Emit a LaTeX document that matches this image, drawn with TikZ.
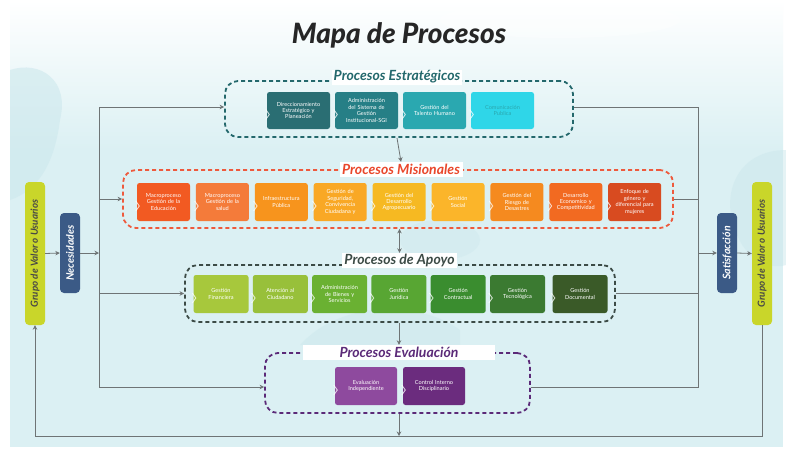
\documentclass[tikz,border=0pt]{standalone}
\usepackage{fontspec}
\setmainfont{Lato}
\newfontfamily\heavyfont{Lato Black Italic}
\usetikzlibrary{arrows.meta,calc}
\definecolor{bgc}{HTML}{DBF0F3}
\definecolor{blob}{HTML}{CDE8ED}
\definecolor{linec}{HTML}{6E7475}
\definecolor{titlec}{HTML}{262626}
\definecolor{estc}{HTML}{24686C}
\definecolor{misc}{HTML}{EE5A3D}
\definecolor{misT}{HTML}{E9472B}
\definecolor{apoc}{HTML}{3C4B46}
\definecolor{evac}{HTML}{5B2A78}
\definecolor{grp}{HTML}{C9D62A}
\definecolor{navy}{HTML}{3B5A86}
\definecolor{eA}{HTML}{2A6E73}
\definecolor{eB}{HTML}{267F86}
\definecolor{eC}{HTML}{2AA8B0}
\definecolor{eD}{HTML}{2FD6E8}
\definecolor{mA}{HTML}{F25A22}
\definecolor{mB}{HTML}{F47B3A}
\definecolor{mC}{HTML}{F7941D}
\definecolor{mD}{HTML}{F9A825}
\definecolor{mE}{HTML}{F6B922}
\definecolor{mF}{HTML}{FBB52A}
\definecolor{mG}{HTML}{F58A1F}
\definecolor{mH}{HTML}{F26A21}
\definecolor{mI}{HTML}{D84B20}
\definecolor{aA}{HTML}{A7C83C}
\definecolor{aB}{HTML}{98C03A}
\definecolor{aC}{HTML}{6AB132}
\definecolor{aD}{HTML}{58A633}
\definecolor{aE}{HTML}{3A8D2F}
\definecolor{aF}{HTML}{3B7A31}
\definecolor{aG}{HTML}{3A5A28}
\definecolor{vA}{HTML}{8E4A9E}
\definecolor{vB}{HTML}{6B2C7E}
\begin{document}
\begin{tikzpicture}[x=1pt,y=-1pt,
  conn/.style={draw=linec,line width=0.8pt},
  arr/.style={conn,-{Stealth[length=4.5pt,width=4.5pt]}},
  dbl/.style={conn,{Stealth[length=4.5pt,width=4.5pt]}-{Stealth[length=4.5pt,width=4.5pt]}},
  frame/.style={draw=#1,dashed,dash pattern=on 4pt off 3pt,line width=1.8pt,rounded corners=13pt,inner sep=0pt},
  sectitle/.style={fill=white,text=#1,font=\fontsize{14}{15}\selectfont\bfseries\itshape,inner sep=0pt,minimum height=15pt},
  pbox/.style={fill=#1,rounded corners=2.5pt,align=center,text=white,inner sep=0pt,font=\fontsize{5.6}{6.4}\selectfont},
  estb/.style={pbox=#1,minimum width=63pt,minimum height=37pt,text width=57pt},
  misb/.style={pbox=#1,minimum width=53pt,minimum height=38pt,text width=50pt},
  apob/.style={pbox=#1,minimum width=55pt,minimum height=38pt,text width=52pt},
  evab/.style={pbox=#1,minimum width=62pt,minimum height=38pt,text width=57pt},
  sidebox/.style={fill=#1,rounded corners=4pt,minimum width=20pt,inner sep=0pt},
  chev/.style={draw=white,draw opacity=0.75,line width=0.9pt}
]
\useasboundingbox (0,0) rectangle (786,451);
% background
\fill[white] (0,0) rectangle (786,451);
\shade[top color=white,bottom color=bgc] (10,0) rectangle (783,150);
\fill[bgc] (10,150) rectangle (783,447);
\fill[blob,opacity=0.6] (10,70) .. controls (40,60) and (70,80) .. (60,120) .. controls (55,160) and (40,190) .. (10,200) -- cycle;
\fill[blob,opacity=0.5] (786,150) .. controls (740,150) and (720,190) .. (735,230) .. controls (745,260) and (770,270) .. (786,265) -- cycle;
\fill[blob,opacity=0.5] (300,345) .. controls (340,300) and (420,300) .. (460,330) -- (460,345) -- cycle;
\fill[blob,opacity=0.4] (440,240) ellipse (40pt and 20pt);
\fill[white,opacity=0.35] (560,20) ellipse (120pt and 18pt);

% title
\node[font=\fontsize{28}{30}\selectfont\heavyfont,text=titlec] (title) at (399,35) {Mapa de Procesos};

% containers
\node[frame=estc,minimum width=348pt,minimum height=56pt] (est) at (399,109) {};
\node[frame=misc,minimum width=550pt,minimum height=58pt] (mis) at (398,199) {};
\node[frame=apoc,minimum width=430pt,minimum height=57pt] (apo) at (400,293.5) {};
\node[frame=evac,minimum width=265pt,minimum height=60pt] (eva) at (397.5,383) {};

\node[sectitle=estc,minimum width=130pt] (estT) at (397,77) {Procesos Estratégicos};
\node[sectitle=misT,minimum width=123pt] (misT) at (401,169.5) {Procesos Misionales};
\node[sectitle=apoc,minimum width=115pt] (apoT) at (399.5,260.5) {Procesos de Apoyo};
\node[sectitle=evac,minimum width=192pt] (evaT) at (399,352.5) {Procesos Evaluación};

% strategic boxes
\node[estb=eA] (e1) at (298.5,110.5) {Direccionamiento\\Estratégico y\\Planeación};
\node[estb=eB] (e2) at (366.5,110.5) {Administración\\del Sistema de\\Gestión\\Institucional-SGI};
\node[estb=eC] (e3) at (434.5,110.5) {Gestión del\\Talento Humano};
\node[estb=eD,text=eC] (e4) at (502.5,110.5) {Comunicación\\Publica};

% misional boxes
\node[misb=mA] (m1) at (163.5,202) {Macroproceso\\Gestión de la\\Educación};
\node[misb=mB] (m2) at (222.4,202) {Macroproceso\\Gestión de la\\salud};
\node[misb=mC] (m3) at (281.3,202) {Infraestructura\\Pública};
\node[misb=mD] (m4) at (340.2,202) {Gestión de\\Seguridad,\\Convivencia\\Ciudadana y};
\node[misb=mE] (m5) at (399.1,202) {Gestión del\\Desarrollo\\Agropecuario};
\node[misb=mF] (m6) at (458,202) {Gestión\\Social};
\node[misb=mG] (m7) at (516.9,202) {Gestión del\\Riesgo de\\Desastres};
\node[misb=mH] (m8) at (575.8,202) {Desarrollo\\Economico y\\Competitividad};
\node[misb=mI] (m9) at (634.7,202) {Enfoque de\\género y\\diferencial para\\mujeres};

% apoyo boxes
\node[apob=aA] (a1) at (221,294) {Gestión\\Financiera};
\node[apob=aB] (a2) at (280.3,294) {Atención al\\Ciudadano};
\node[apob=aC] (a3) at (339.6,294) {Administración\\de Bienes y\\Servicios};
\node[apob=aD] (a4) at (398.9,294) {Gestión\\Jurídica};
\node[apob=aE] (a5) at (458.2,294) {Gestión\\Contractual};
\node[apob=aF] (a6) at (517.5,294) {Gestión\\Tecnológica};
\node[apob=aG] (a7) at (580,294) {Gestión\\Documental};

% evaluation boxes
\node[evab=vA] (v1) at (366,386) {Evaluación\\Independiente};
\node[evab=vB] (v2) at (434,386) {Control Interno\\Disciplinario};

% chevrons
\foreach \n in {e1,e2,e3,e4,m1,m2,m3,m4,m5,m6,m7,m8,m9,a1,a2,a3,a4,a5,a6,a7,v1,v2}
  \draw[chev] ([xshift=-1pt,yshift=1pt]\n.west) -- ([xshift=2.5pt,yshift=-4pt]\n.west) -- ([xshift=-1pt,yshift=-9pt]\n.west);

% side boxes
\node[sidebox=grp,minimum height=143pt] (grpL) at (35,253.5) {\rotatebox{90}{\fontsize{9.8}{10}\selectfont\bfseries\itshape\color{titlec!85}Grupo de Valor o Usuarios}};
\node[sidebox=navy,minimum height=80pt] (nec) at (70,253) {\rotatebox{90}{\fontsize{10.5}{11}\selectfont\bfseries\itshape\color{white}Necesidades}};
\node[sidebox=navy,minimum height=80pt] (sat) at (727,253) {\rotatebox{90}{\fontsize{10.5}{11}\selectfont\bfseries\itshape\color{white}Satisfacción}};
\node[sidebox=grp,minimum height=143pt] (grpR) at (762,253.5) {\rotatebox{90}{\fontsize{9.8}{10}\selectfont\bfseries\itshape\color{titlec!85}Grupo de Valor o Usuarios}};

% coordinates
\coordinate (lt) at (99,107);
\coordinate (lb) at (99,387);
\coordinate (rt) at (698,107);
\coordinate (rb) at (698,387);
\coordinate (bot) at (399,436);

% left connectors
\draw[arr] (grpL.east) -- (nec.west);
\draw[arr] (nec.east) -- (nec.east -| lt);
\draw[conn] (lt) -- (lb);
\draw[arr] (lt) -- (lt -| est.west);
\draw[arr] (lt |- mis.west) -- (mis.west);
\draw[arr] (lt |- apo.west) -- (apo.west);
\draw[arr] (lb) -- (lb -| eva.west);

% right connectors
\draw[conn] (rt -| est.east) -- (rt) -- (rb) -- (rb -| eva.east);
\draw[conn] (mis.east) -- (mis.east -| rt);
\draw[conn] (apo.east) -- (apo.east -| rt);
\draw[arr] (sat.west -| rt) -- (sat.west);
\draw[arr] (sat.east) -- (grpR.west);

% vertical flow
\draw[arr] (est.south -| estT) -- (misT.north);
\draw[dbl] (mis.south -| apoT) -- (apoT.north);
\draw[arr] (apo.south -| evaT) -- (evaT.north);
\draw[arr] (eva.south -| bot) -- (bot);
\draw[arr] (grpR.south) |- (bot) -| (grpL.south);
\end{tikzpicture}
\end{document}
